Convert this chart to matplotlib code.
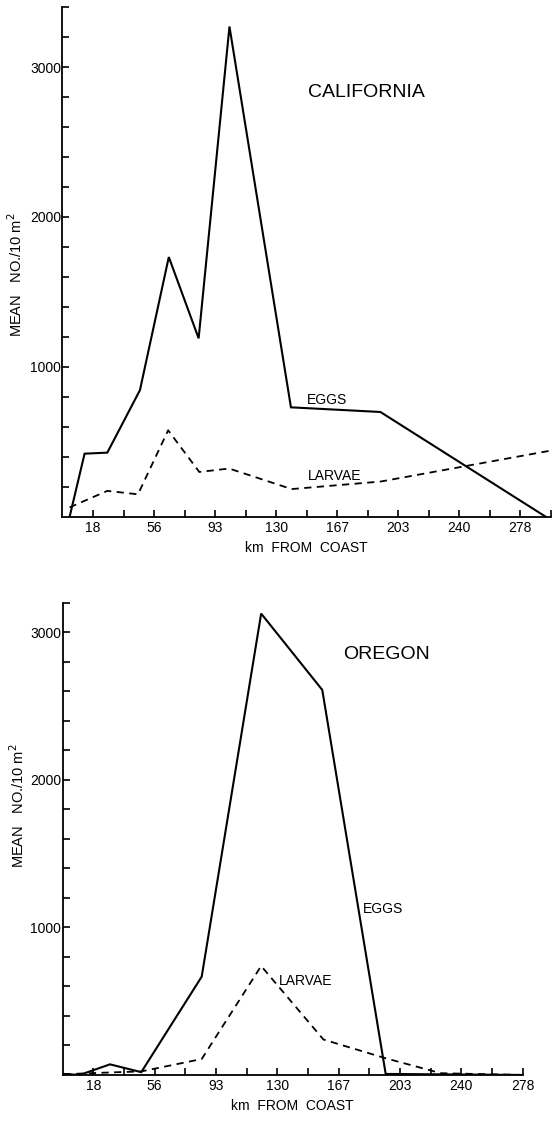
import matplotlib.pyplot as plt
import numpy as np

plt.rcParams['font.family'] = ['Liberation Sans', 'DejaVu Sans']

# tick positions: every 10 nautical miles, labelled in km
nm = 1.852
tick_labels = ['18', '56', '93', '130', '167', '203', '240', '278']

# California
cal_eggs_km = [4.3, 13.4, 27.2, 47.0, 64.5, 82.6, 101.3, 138.6, 192.9, 293.4]
cal_eggs = [0, 422, 429, 846, 1733, 1191, 3270, 731, 700, 0]
cal_larv_km = [4.3, 27.2, 45.8, 64.1, 83.0, 101.1, 139.0, 192.9, 295.5]
cal_larv = [64, 174, 151, 578, 300, 323, 186, 236, 441]

# Oregon
ore_eggs_km = [0.6, 10.3, 28.6, 47.5, 84.0, 119.9, 156.8, 195.1, 277.8]
ore_eggs = [7, 0, 72, 19, 666, 3125, 2608, 7, 0]
ore_larv_km = [0.6, 28.6, 47.5, 84.0, 119.9, 157.5, 195.1, 228.4, 277.8]
ore_larv = [5, 17, 24, 108, 738, 240, 113, 12, 0]

fig = plt.figure(figsize=(5.55, 11.3), dpi=100)
ax1 = fig.add_axes([0.1126, 0.5425, 0.880, 0.4513])
ax2 = fig.add_axes([0.1128, 0.0487, 0.8295, 0.4181])


def style(ax, xmax, ymax, ylab_y):
    ax.set_xlim(0, xmax)
    ax.set_ylim(0, ymax)
    for s in ['top', 'right']:
        ax.spines[s].set_visible(False)
    for s in ['left', 'bottom']:
        ax.spines[s].set_linewidth(1.3)
    ax.set_xticks(np.arange(10, 151, 20) * nm)
    ax.set_xticklabels(tick_labels)
    ax.set_xticks(np.arange(20, xmax / nm + 0.1, 20) * nm, minor=True)
    ax.set_yticks([1000, 2000, 3000])
    ax.set_yticks(np.arange(200, ymax + 1, 200), minor=True)
    ax.tick_params(which='both', direction='in', length=5, width=1.2,
                   labelsize=10, pad=3)
    ax.tick_params(axis='y', pad=1)
    ax.set_xlabel('km  FROM  COAST', fontsize=10, labelpad=4)
    ax.set_ylabel('MEAN   NO./10 m$^2$', fontsize=10.5)
    ax.yaxis.set_label_coords(-0.077, ylab_y)


ax1.plot(cal_eggs_km, cal_eggs, color='black', lw=1.5, solid_joinstyle='miter')
ax1.plot(cal_larv_km, cal_larv, color='black', lw=1.3, linestyle=(0, (4, 3)))
style(ax1, 296.3, 3400, 0.475)
ax1.text(149, 2827, 'CALIFORNIA', fontsize=14, va='center')
ax1.text(148.5, 780, 'EGGS', fontsize=10, va='center')
ax1.text(149, 273, 'LARVAE', fontsize=10, va='center')

ax2.plot(ore_eggs_km, ore_eggs, color='black', lw=1.5, solid_joinstyle='miter')
ax2.plot(ore_larv_km, ore_larv, color='black', lw=1.3, linestyle=(0, (4, 3)))
style(ax2, 278, 3200, 0.569)
ax2.text(169.3, 2851, 'OREGON', fontsize=14, va='center')
ax2.text(181.4, 1124, 'EGGS', fontsize=10, va='center')
ax2.text(130.7, 637, 'LARVAE', fontsize=10, va='center')

fig.savefig('out.png', dpi=100)
